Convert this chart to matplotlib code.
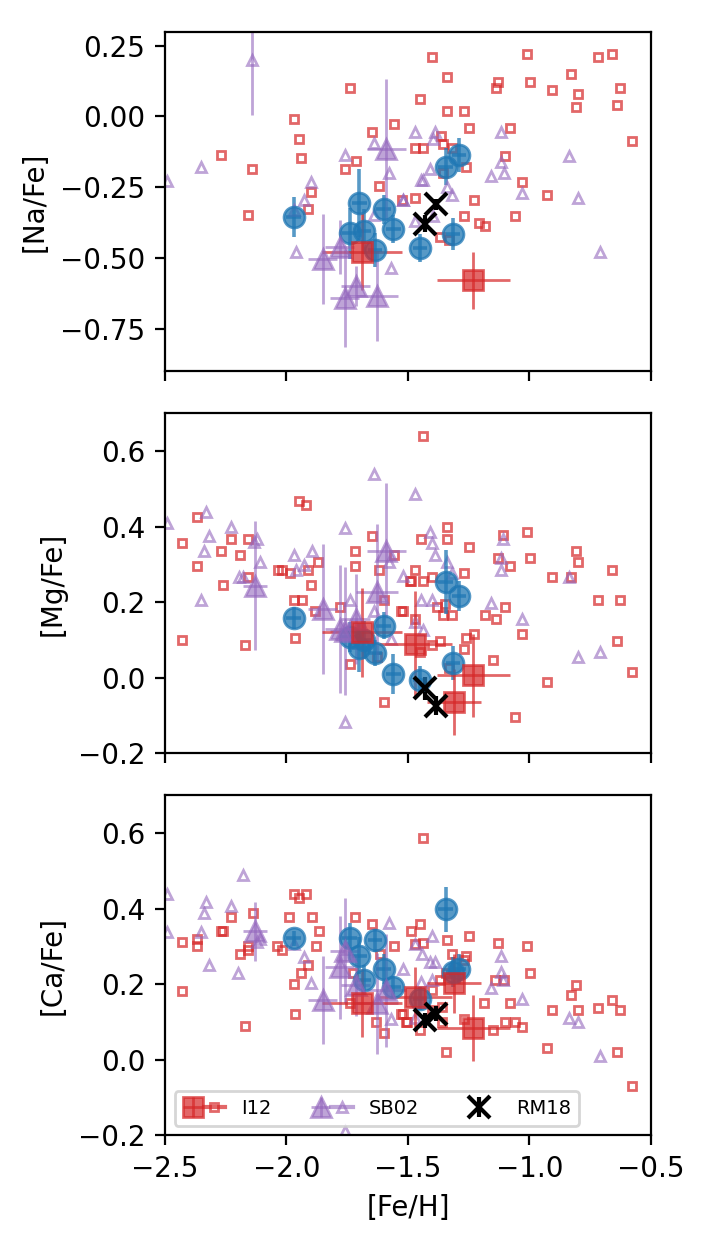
import numpy as np
import matplotlib
matplotlib.use("Agg")
import matplotlib.pyplot as plt
from matplotlib.lines import Line2D
from matplotlib.legend_handler import HandlerTuple

# ---- this work (blue circles), one entry per cluster
blue_feh = [-1.97, -1.74, -1.70, -1.68, -1.635, -1.60, -1.56, -1.45, -1.344, -1.314, -1.29]
blue_na = [-0.356, -0.412, -0.306, -0.406, -0.472, -0.328, -0.398, -0.465, -0.177, -0.414, -0.137]
blue_na_err = [0.07, 0.09, 0.12, 0.08, 0.06, 0.05, 0.05, 0.05, 0.065, 0.056, 0.06]
blue_mg = [0.158, 0.107, 0.080, 0.101, 0.065, 0.138, 0.011, -0.006, 0.253, 0.039, 0.216]
blue_mg_err = [0.03, 0.04, 0.065, 0.05, 0.035, 0.035, 0.053, 0.037, 0.085, 0.045, 0.04]
blue_ca = [0.322, 0.322, 0.276, 0.212, 0.316, 0.241, 0.193, 0.162, 0.398, 0.232, 0.241]
blue_ca_err = [0.02, 0.04, 0.05, 0.04, 0.03, 0.04, 0.03, 0.03, 0.059, 0.04, 0.04]
blue_feh_err = 0.03

# ---- I12 cluster means (big red squares)
i12_feh = [-1.69, -1.47, -1.31, -1.23]
i12_feh_err = [0.165, 0.15, 0.11, 0.149]
i12_na = [-0.477, np.nan, np.nan, -0.579]
i12_na_err = [0.135, 0.1, 0.1, 0.10]
i12_mg = [0.120, 0.089, -0.064, 0.007]
i12_mg_err = [0.117, 0.14, 0.088, 0.11]
i12_ca = [0.149, 0.166, 0.202, 0.084]
i12_ca_err = [0.09, 0.079, 0.077, 0.088]

# ---- SB02 cluster means (big purple triangles)
sb_feh = [-2.13, -1.85, -1.78, -1.76, -1.715, -1.626, -1.588]
sb_feh_err = [0.05, 0.06, 0.06, 0.06, 0.06, 0.086, 0.079]
sb_na = [np.nan, -0.504, -0.461, -0.642, -0.599, -0.633, -0.116]
sb_na_err = [0.1, 0.158, 0.097, 0.173, 0.07, 0.16, 0.25]
sb_mg = [0.244, 0.182, 0.129, 0.124, 0.156, 0.226, 0.337]
sb_mg_err = [0.17, 0.171, 0.17, 0.17, 0.12, 0.18, 0.18]
sb_ca = [0.34, 0.158, 0.245, 0.289, 0.197, 0.149, 0.184]
sb_ca_err = [0.078, 0.117, 0.136, 0.14, 0.08, 0.134, 0.15]

# ---- RM18 (black crosses)
rm_feh = [-1.43, -1.386]
rm_na = [-0.379, -0.310]
rm_na_err = [0.03, 0.02]
rm_mg = [-0.028, -0.074]
rm_mg_err = [0.03, 0.025]
rm_ca = [0.105, 0.122]
rm_ca_err = [0.02, 0.02]

# ---- I12 individual stars (small open squares)
i12s_na_x = [-1.737, -1.968, -1.947, -1.939, -2.270, -2.141, -2.160, -1.898, -1.910, -1.647, -1.556,
             -1.758, -1.715, -1.619, -1.525, -1.401, -1.010, -0.718, -0.659, -1.338, -1.128, -1.137,
             -0.997, -0.829, -0.906, -0.799, -0.628, -0.640, -0.807, -1.451, -1.338, -1.270, -1.248,
             -1.079, -1.362, -0.577, -1.471, -1.437, -1.357, -1.318, -1.100, -1.259, -1.357, -1.030,
             -0.928, -1.471, -1.228, -1.268, -1.060, -1.208, -1.184, -1.367, -1.330]
i12s_na_y = [0.102, -0.008, -0.078, -0.148, -0.137, -0.187, -0.349, -0.268, -0.327, -0.056, -0.028,
             -0.187, -0.158, -0.246, -0.296, 0.211, 0.222, 0.211, 0.222, 0.141, 0.122, 0.102,
             0.122, 0.151, 0.092, 0.081, 0.102, 0.042, 0.032, 0.062, 0.020, 0.020, -0.039,
             -0.039, -0.068, -0.088, -0.110, -0.110, -0.097, -0.110, -0.138, -0.177, -0.198, -0.230,
             -0.279, -0.289, -0.296, -0.350, -0.350, -0.377, -0.388, -0.427, -0.438]

i12s_mg_x = [-2.430, -2.367, -2.367, -2.430, -2.270, -2.228, -2.191, -2.157, -2.157, -2.260, -2.169,
             -1.947, -1.920, -2.036, -2.016, -1.987, -1.970, -1.936, -1.963, -1.910, -1.870, -1.898,
             -1.881, -1.780, -1.717, -1.717, -1.647, -1.618, -1.598, -1.556, -1.527, -1.739, -1.626,
             -1.598, -1.492, -1.437, -1.338, -1.338, -1.448, -1.248, -1.107, -1.010, -1.130, -1.078,
             -0.996, -0.807, -0.798, -0.659, -0.906, -0.828, -0.717, -0.628, -0.640, -0.577, -0.927,
             -1.060, -1.150, -1.030, -1.100, -1.137, -1.184, -1.268, -1.471, -1.437, -1.488, -1.400,
             -1.382, -1.348, -1.357, -1.318, -1.522, -1.471, -1.228, -1.259, -1.268, -1.367, -1.400,
             -1.451, -1.330]
i12s_mg_y = [0.358, 0.427, 0.297, 0.100, 0.337, 0.368, 0.326, 0.368, 0.268, 0.246, 0.086,
             0.467, 0.458, 0.285, 0.285, 0.277, 0.206, 0.206, 0.105, 0.285, 0.307, 0.246,
             0.176, 0.188, 0.337, 0.297, 0.376, 0.286, 0.206, 0.326, 0.177, 0.036, 0.055,
             -0.064, 0.257, 0.639, 0.398, 0.368, 0.368, 0.347, 0.378, 0.387, 0.318, 0.297,
             0.318, 0.337, 0.307, 0.286, 0.268, 0.268, 0.207, 0.207, 0.098, 0.016, -0.012,
             -0.104, 0.047, 0.116, 0.188, 0.156, 0.167, 0.277, 0.286, 0.257, 0.257, 0.268,
             0.188, 0.195, 0.167, 0.167, 0.177, 0.156, 0.116, 0.105, 0.076, 0.098, 0.086,
             0.067, 0.027]

i12s_ca_x = [-2.430, -2.367, -2.367, -2.430, -2.270, -2.260, -2.228, -2.139, -2.191, -2.157, -2.157,
             -2.169, -1.967, -1.920, -1.947, -1.988, -1.895, -1.867, -2.037, -2.016, -1.879, -1.910,
             -1.940, -1.970, -1.963, -1.717, -1.647, -1.558, -1.615, -1.725, -1.631, -1.600, -1.527,
             -1.507, -1.739, -1.437, -1.451, -1.488, -1.471, -1.437, -1.338, -1.248, -1.130, -1.010,
             -0.996, -1.318, -1.259, -1.268, -1.140, -1.103, -1.345, -1.368, -1.400, -1.187, -1.080,
             -0.906, -0.807, -0.828, -0.799, -0.717, -0.659, -0.628, -0.640, -0.577, -0.927, -1.345,
             -1.268, -1.150, -1.100, -1.060, -1.030, -1.360, -1.360, -1.400, -1.451, -1.503, -1.522]
i12s_ca_y = [0.311, 0.319, 0.300, 0.181, 0.340, 0.340, 0.379, 0.389, 0.279, 0.300, 0.290,
             0.089, 0.439, 0.439, 0.428, 0.379, 0.379, 0.340, 0.300, 0.290, 0.300, 0.250,
             0.231, 0.200, 0.120, 0.379, 0.360, 0.300, 0.279, 0.230, 0.100, 0.070, 0.122,
             0.099, 0.149, 0.588, 0.360, 0.340, 0.307, 0.310, 0.318, 0.329, 0.310, 0.300,
             0.230, 0.279, 0.274, 0.263, 0.210, 0.210, 0.231, 0.210, 0.184, 0.149, 0.149,
             0.131, 0.199, 0.171, 0.131, 0.138, 0.159, 0.131, 0.020, -0.069, 0.032, 0.020,
             0.109, 0.080, 0.099, 0.099, 0.087, 0.140, 0.099, 0.131, 0.080, 0.099, 0.122]

# ---- SB02 individual stars (small open triangles)
sbs_na_x = [-2.141, -2.490, -2.351, -1.898, -1.928, -1.968, -1.960, -1.758, -1.640, -1.577, -1.639,
            -1.569, -1.521, -1.471, -1.389, -1.398, -1.115, -1.409, -1.448, -1.438, -1.338, -1.318,
            -1.117, -1.106, -1.157, -1.030, -0.836, -0.798, -0.710, -1.519, -1.471, -1.398]
sbs_na_y = [0.201, -0.228, -0.177, -0.231, -0.296, -0.330, -0.477, -0.137, -0.095, -0.198, -0.349,
            -0.536, -0.296, -0.056, -0.056, -0.081, -0.056, -0.185, -0.226, -0.226, -0.248, -0.279,
            -0.160, -0.198, -0.209, -0.269, -0.138, -0.289, -0.477, -0.296, -0.369, -0.353]
sbs_na_err = [0.196] + [np.nan] * 31

sbs_mg_x = [-2.493, -2.329, -2.318, -2.338, -2.228, -2.351, -2.197, -2.180, -2.119, -2.135, -2.107,
            -1.967, -1.895, -1.959, -1.927, -1.757, -1.639, -1.739, -1.639, -1.577, -1.569, -1.519,
            -1.758, -1.471, -1.409, -1.400, -1.389, -1.338, -1.320, -1.448, -1.400, -1.471, -1.437,
            -1.107, -1.117, -1.117, -1.157, -1.030, -0.835, -0.799, -0.710]
sbs_mg_y = [0.410, 0.438, 0.376, 0.337, 0.398, 0.207, 0.268, 0.268, 0.368, 0.360, 0.307,
            0.326, 0.337, 0.285, 0.299, 0.397, 0.540, 0.206, 0.177, 0.307, 0.102, 0.269,
            -0.116, 0.487, 0.387, 0.357, 0.326, 0.306, 0.277, 0.207, 0.207, 0.147, 0.127,
            0.368, 0.318, 0.286, 0.197, 0.156, 0.268, 0.055, 0.067]

sbs_ca_x = [-2.490, -2.493, -2.329, -2.338, -2.351, -2.318, -2.228, -2.178, -2.198, -2.119, -2.107,
            -1.967, -1.927, -1.897, -1.577, -1.519, -1.569, -1.758, -1.752, -1.400, -1.471, -1.440,
            -1.409, -1.389, -1.320, -1.448, -1.400, -1.117, -1.117, -1.107, -1.157, -1.030, -0.836,
            -0.799, -0.710, -1.471]
sbs_ca_y = [0.439, 0.338, 0.417, 0.388, 0.338, 0.250, 0.407, 0.489, 0.230, 0.311, 0.320,
            0.307, 0.272, 0.202, 0.361, 0.239, 0.109, -0.190, 0.294, 0.329, 0.307, 0.281,
            0.260, 0.260, 0.237, 0.206, 0.210, 0.274, 0.232, 0.210, 0.191, 0.162, 0.111,
            0.100, 0.011, 0.111]

RED = 'tab:red'
PURPLE = 'tab:purple'
BLUE = 'tab:blue'

panels = [
    ('[Na/Fe]', (-0.9, 0.3), [-0.75, -0.5, -0.25, 0.0, 0.25],
     i12s_na_x, i12s_na_y, sbs_na_x, sbs_na_y, sbs_na_err,
     blue_na, blue_na_err, i12_na, i12_na_err, sb_na, sb_na_err, rm_na, rm_na_err),
    ('[Mg/Fe]', (-0.2, 0.7), [-0.2, 0.0, 0.2, 0.4, 0.6],
     i12s_mg_x, i12s_mg_y, sbs_mg_x, sbs_mg_y, None,
     blue_mg, blue_mg_err, i12_mg, i12_mg_err, sb_mg, sb_mg_err, rm_mg, rm_mg_err),
    ('[Ca/Fe]', (-0.2, 0.7), [-0.2, 0.0, 0.2, 0.4, 0.6],
     i12s_ca_x, i12s_ca_y, sbs_ca_x, sbs_ca_y, None,
     blue_ca, blue_ca_err, i12_ca, i12_ca_err, sb_ca, sb_ca_err, rm_ca, rm_ca_err),
]

fig, axes = plt.subplots(3, 1, figsize=(3.6, 6.3), dpi=200, sharex=True)
fig.subplots_adjust(left=0.229, right=0.904, top=0.975, bottom=0.099, hspace=0.124)

for ax, p in zip(axes, panels):
    (ylab, ylim, yticks, sqx, sqy, trx, try_, trerr,
     bv, be, iv, ie, sv, se, rv, re_) = p

    ax.plot(sqx, sqy, 's', ms=3, mfc='none', mec=RED, mew=1, alpha=0.7, ls='none')
    if trerr is not None:
        ax.errorbar(trx, try_, yerr=trerr, fmt='^', ms=3.5, mfc='none', mec=PURPLE, mew=1,
                    ecolor=PURPLE, elinewidth=1, alpha=0.6)
    else:
        ax.plot(trx, try_, '^', ms=3.5, mfc='none', mec=PURPLE, mew=1, alpha=0.6, ls='none')

    ax.errorbar(blue_feh, bv, xerr=blue_feh_err, yerr=be, fmt='o', ms=7.5, color=BLUE,
                elinewidth=1.3, alpha=0.75)
    eb_sb = ax.errorbar(sb_feh, sv, xerr=sb_feh_err, yerr=se, fmt='^', ms=7.5, color=PURPLE,
                        elinewidth=1, alpha=0.6)
    eb_i12 = ax.errorbar(i12_feh, iv, xerr=i12_feh_err, yerr=ie, fmt='s', ms=7, color=RED,
                         elinewidth=1, alpha=0.7)
    eb_rm = ax.errorbar(rm_feh, rv, yerr=re_, fmt='x', ms=8, color='k', mew=1.5,
                        elinewidth=1.5)

    ax.set_ylim(*ylim)
    ax.set_yticks(yticks)
    ax.set_ylabel(ylab)

axes[-1].set_xlim(-2.5, -0.5)
axes[-1].set_xticks([-2.5, -2.0, -1.5, -1.0, -0.5])
axes[-1].set_xlabel('[Fe/H]')

small_sq = Line2D([], [], marker='s', ms=3, mfc='none', mec=RED, color=RED, mew=1, alpha=0.7)
small_tr = Line2D([], [], marker='^', ms=3.5, mfc='none', mec=PURPLE, color=PURPLE, mew=1, alpha=0.6)
axes[-1].legend([(eb_i12, small_sq), (eb_sb, small_tr), eb_rm], ['I12', 'SB02', 'RM18'],
                handler_map={tuple: HandlerTuple(ndivide=None, pad=0)},
                loc='lower left', ncol=3, fontsize=7, handlelength=2.2)

fig.savefig('out.png', dpi=200)
